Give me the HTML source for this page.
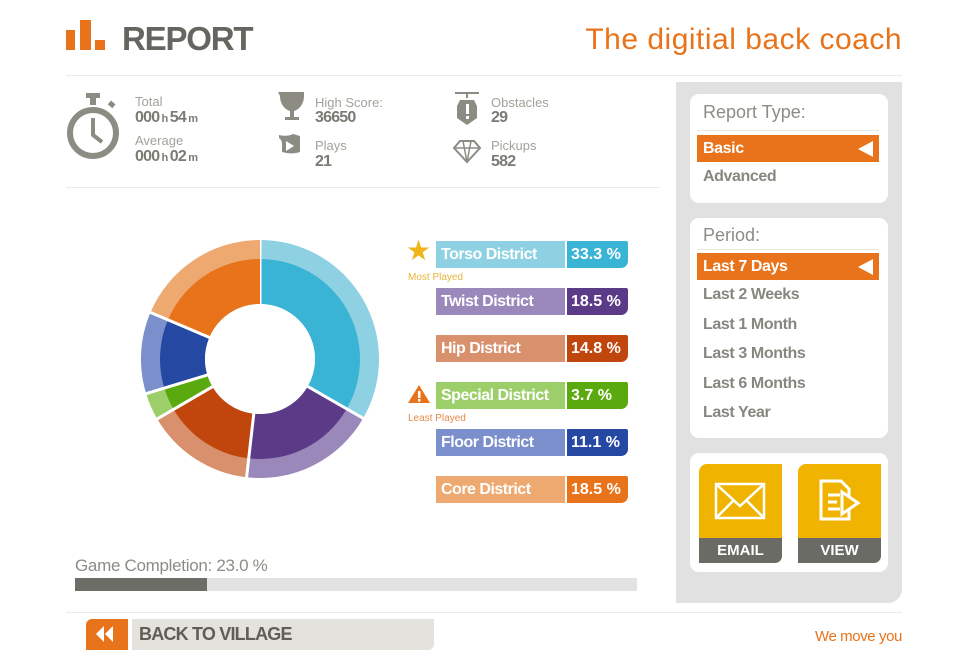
<!DOCTYPE html>
<html><head><meta charset="utf-8"><style>
*{margin:0;padding:0;box-sizing:border-box}
body{width:960px;height:660px;background:#fff;position:relative;overflow:hidden;font-family:"Liberation Sans",sans-serif}
.a{position:absolute}
.lbl{font-size:13px;color:#a3a29a;line-height:13px}
.val{font-size:16px;font-weight:bold;color:#7c7b73;line-height:15px;letter-spacing:-0.8px}
.val small{font-size:11px}
.row{position:absolute;left:436px;height:27px;width:192px}
.row .n{position:absolute;left:0;top:0;width:129px;height:27px;color:#fff;font-weight:bold;font-size:16px;line-height:27px;padding-left:5px;letter-spacing:-0.5px}
.row .p{position:absolute;left:131px;top:0;width:61px;height:27px;color:#fff;font-weight:bold;font-size:16px;line-height:27px;padding-left:4px;border-bottom-right-radius:7px;border-top-right-radius:2px}
.box{position:absolute;left:690px;width:198px;background:#fff;border-radius:9px}
.opt{position:absolute;left:703px;font-size:16px;font-weight:bold;color:#88877f;letter-spacing:-0.4px}
.sel{position:absolute;left:697px;width:182px;height:27px;background:#e8731a;color:#fff;font-weight:bold;font-size:16px;line-height:27px;padding-left:6px;letter-spacing:-0.4px}
.sel:after{content:"";position:absolute;right:6px;top:6px;border-right:15px solid #fff;border-top:8px solid transparent;border-bottom:8px solid transparent}
</style></head><body>
<div class="a" style="left:66px;top:30px;width:9px;height:20px;background:#e8731a"></div>
<div class="a" style="left:80px;top:20px;width:11px;height:30px;background:#e8731a"></div>
<div class="a" style="left:95px;top:40px;width:10px;height:10px;background:#e8731a"></div>
<div class="a" style="left:122px;top:20px;font-size:33px;font-weight:bold;color:#66655f;letter-spacing:-1.2px">REPORT</div>
<div class="a" style="right:58px;top:23px;font-size:30px;color:#e8731a;letter-spacing:0.5px">The digitial back coach</div>
<div class="a" style="left:66px;top:75px;width:836px;height:1px;background:#ececE6"></div>
<svg class="a" style="left:62px;top:88px" width="64" height="80">
<rect x="24" y="5" width="14" height="5" fill="#8d8c83"/><rect x="28" y="9" width="6" height="8" fill="#8d8c83"/>
<rect x="47" y="14" width="6" height="5" fill="#8d8c83" transform="rotate(40 50 16)"/>
<circle cx="31" cy="45" r="23" fill="none" stroke="#8d8c83" stroke-width="6"/>
<polyline points="31,30 31,47 40,54" fill="none" stroke="#8d8c83" stroke-width="4"/>
</svg>
<div class="a lbl" style="left:135px;top:95px">Total</div>
<div class="a val" style="left:135px;top:110px">000<small> h </small>54<small> m</small></div>
<div class="a lbl" style="left:135px;top:134px">Average</div>
<div class="a val" style="left:135px;top:149px">000<small> h </small>02<small> m</small></div>
<svg class="a" style="left:275px;top:90px" width="34" height="80">
<path d="M3 2h26v4c0 9-6 14-10 15v6h5v3H10v-3h5v-6C11 20 5 15 5 6z" fill="#8d8c83"/>
<path d="M7 54q0-4-3-6v-3q8 2 14-1l7 2v16q-8 3-18 0z" fill="#8d8c83"/><path d="M11 51l8 5-8 5z" fill="#fff"/>
</svg>
<div class="a lbl" style="left:315px;top:96px">High Score:</div>
<div class="a val" style="left:315px;top:110px">36650</div>
<div class="a lbl" style="left:315px;top:139px">Plays</div>
<div class="a val" style="left:315px;top:154px">21</div>
<svg class="a" style="left:450px;top:90px" width="36" height="80">
<path d="M5 3h24M17 3v5" stroke="#8d8c83" stroke-width="2"/>
<path d="M10 10h14l3 6v12l-10 7-10-7V16z" fill="#8d8c83"/><rect x="16" y="14" width="3" height="10" fill="#fff"/><rect x="16" y="26" width="3" height="3" fill="#fff"/>
<path d="M4 58l6-7h14l6 7-13 14z" fill="none" stroke="#8d8c83" stroke-width="2"/><path d="M4 58h26M13 51l4 21 4-21" fill="none" stroke="#8d8c83" stroke-width="1.5"/>
</svg>
<div class="a lbl" style="left:491px;top:96px">Obstacles</div>
<div class="a val" style="left:491px;top:110px">29</div>
<div class="a lbl" style="left:491px;top:139px">Pickups</div>
<div class="a val" style="left:491px;top:154px">582</div>
<div class="a" style="left:66px;top:187px;width:594px;height:1px;background:#ececE6"></div>
<svg class="a" style="left:0;top:0" width="660" height="560" id="pie"></svg>
<script>
(function(){
var s=document.getElementById('pie'),cx=260,cy=359;
var d=[[33.3,'#3ab4d4','#8dd1e2'],[18.5,'#5b3a87','#9b88bb'],[14.8,'#c0460e','#d9906c'],[3.7,'#5aaa0f','#9ccf6a'],[11.1,'#2549a3','#7a8fcb'],[18.6,'#e8731a','#eda96f']];
function pt(r,a){a=(a-90)*Math.PI/180;return [cx+r*Math.cos(a),cy+r*Math.sin(a)]}
function arc(r0,r1,a0,a1,c){var l=(a1-a0)>180?1:0,p=pt(r1,a0),q=pt(r1,a1),u=pt(r0,a1),v=pt(r0,a0);
return '<path d="M'+p+' A'+r1+' '+r1+' 0 '+l+' 1 '+q+' L'+u+' A'+r0+' '+r0+' 0 '+l+' 0 '+v+'Z" fill="'+c+'"/>'}
var h='',a=0;
d.forEach(function(x){var b=a+x[0]*3.6;h+=arc(55,119,a,b,x[2])+arc(55,100,a,b,x[1]);
var p=pt(50,a),q=pt(124,a);h+='<line x1="'+p[0]+'" y1="'+p[1]+'" x2="'+q[0]+'" y2="'+q[1]+'" stroke="#fff" stroke-width="3"/>';a=b});
h+='<circle cx="'+cx+'" cy="'+cy+'" r="55" fill="#fff"/>';
s.innerHTML=h;})();
</script>
<div class="row" style="top:241px"><div class="n" style="background:#8dd1e2">Torso District</div><div class="p" style="background:#3ab4d4">33.3 %</div></div>
<div class="row" style="top:288px"><div class="n" style="background:#9b88bb">Twist District</div><div class="p" style="background:#5b3a87">18.5 %</div></div>
<div class="row" style="top:335px"><div class="n" style="background:#d9906c">Hip District</div><div class="p" style="background:#c0460e">14.8 %</div></div>
<div class="row" style="top:382px"><div class="n" style="background:#9ccf6a">Special District</div><div class="p" style="background:#5aaa0f">3.7 %</div></div>
<div class="row" style="top:429px"><div class="n" style="background:#7a8fcb">Floor District</div><div class="p" style="background:#2549a3">11.1 %</div></div>
<div class="row" style="top:476px"><div class="n" style="background:#eda96f">Core District</div><div class="p" style="background:#e8731a">18.5 %</div></div>
<div class="a" style="left:406px;top:236px;font-size:28px;color:#f0b51a;line-height:30px">★</div>
<div class="a" style="left:408px;top:272px;font-size:10px;color:#e9b43a">Most Played</div>
<svg class="a" style="left:407px;top:384px" width="24" height="20"><path d="M12 1L23 19H1z" fill="#e8731a"/><rect x="11" y="7" width="2.5" height="7" fill="#fff"/><rect x="11" y="15" width="2.5" height="2.5" fill="#fff"/></svg>
<div class="a" style="left:408px;top:413px;font-size:10px;color:#e58a4a">Least Played</div>
<div class="a" style="left:75px;top:556px;font-size:17px;color:#8d8c85;letter-spacing:-0.3px">Game Completion: 23.0 %</div>
<div class="a" style="left:75px;top:578px;width:562px;height:13px;background:#e2e2e2"></div>
<div class="a" style="left:75px;top:578px;width:132px;height:13px;background:#6d6d68"></div>
<div class="a" style="left:676px;top:82px;width:226px;height:521px;background:#e1e1e1;border-bottom-right-radius:14px"></div>
<div class="box" style="top:94px;height:109px"></div>
<div class="a" style="left:703px;top:102px;font-size:18px;color:#8d8c85">Report Type:</div>
<div class="a" style="left:697px;top:130px;width:182px;height:1px;background:#e8e8e4"></div>
<div class="sel" style="top:135px">Basic</div>
<div class="opt" style="top:168px">Advanced</div>
<div class="box" style="top:218px;height:220px"></div>
<div class="a" style="left:703px;top:225px;font-size:18px;color:#8d8c85">Period:</div>
<div class="a" style="left:697px;top:249px;width:182px;height:1px;background:#e8e8e4"></div>
<div class="sel" style="top:253px">Last 7 Days</div>
<div class="opt" style="top:286px">Last 2 Weeks</div>
<div class="opt" style="top:316px">Last 1 Month</div>
<div class="opt" style="top:345px">Last 3 Months</div>
<div class="opt" style="top:375px">Last 6 Months</div>
<div class="opt" style="top:404px">Last Year</div>
<div class="box" style="top:453px;height:119px"></div>
<div class="a" style="left:699px;top:464px;width:83px;height:74px;background:#f0b400;border-top-left-radius:8px"></div>
<div class="a" style="left:699px;top:538px;width:83px;height:25px;background:#6b6b66;border-bottom-right-radius:7px;color:#fff;font-weight:bold;font-size:15px;text-align:center;line-height:25px">EMAIL</div>
<svg class="a" style="left:714px;top:482px" width="54" height="40"><rect x="2" y="2" width="48" height="34" fill="none" stroke="#fff" stroke-width="2.5"/><path d="M2 2l24 22 24-22M2 36l17-17M50 36L33 19" fill="none" stroke="#fff" stroke-width="2.5"/></svg>
<div class="a" style="left:798px;top:464px;width:83px;height:74px;background:#f0b400;border-top-left-radius:8px"></div>
<div class="a" style="left:798px;top:538px;width:83px;height:25px;background:#6b6b66;border-bottom-right-radius:7px;color:#fff;font-weight:bold;font-size:15px;text-align:center;line-height:25px">VIEW</div>
<svg class="a" style="left:818px;top:478px" width="44" height="46"><path d="M3 3h20l8 8v30H3z" fill="none" stroke="#fff" stroke-width="3"/><path d="M10 17h12M10 24h9M10 31h12" stroke="#fff" stroke-width="3"/><path d="M24 14l16 11-16 11z" fill="#f0b400" stroke="#fff" stroke-width="3"/></svg>
<div class="a" style="left:66px;top:612px;width:836px;height:1px;background:#ececE6"></div>
<div class="a" style="left:86px;top:619px;width:42px;height:31px;background:#e8731a;border-top-left-radius:6px"></div>
<div class="a" style="left:96px;top:626px;width:0;height:0;border-right:8px solid #fff;border-top:8px solid transparent;border-bottom:8px solid transparent"></div>
<div class="a" style="left:105px;top:626px;width:0;height:0;border-right:8px solid #fff;border-top:8px solid transparent;border-bottom:8px solid transparent"></div>
<div class="a" style="left:132px;top:619px;width:302px;height:31px;background:#e3e2dc;border-bottom-right-radius:6px"></div>
<div class="a" style="left:139px;top:624px;font-size:18px;font-weight:bold;color:#5e5d57;letter-spacing:-0.8px">BACK TO VILLAGE</div>
<div class="a" style="right:58px;top:628px;font-size:15px;color:#e8731a;letter-spacing:-0.4px">We move you</div>
</body></html>
